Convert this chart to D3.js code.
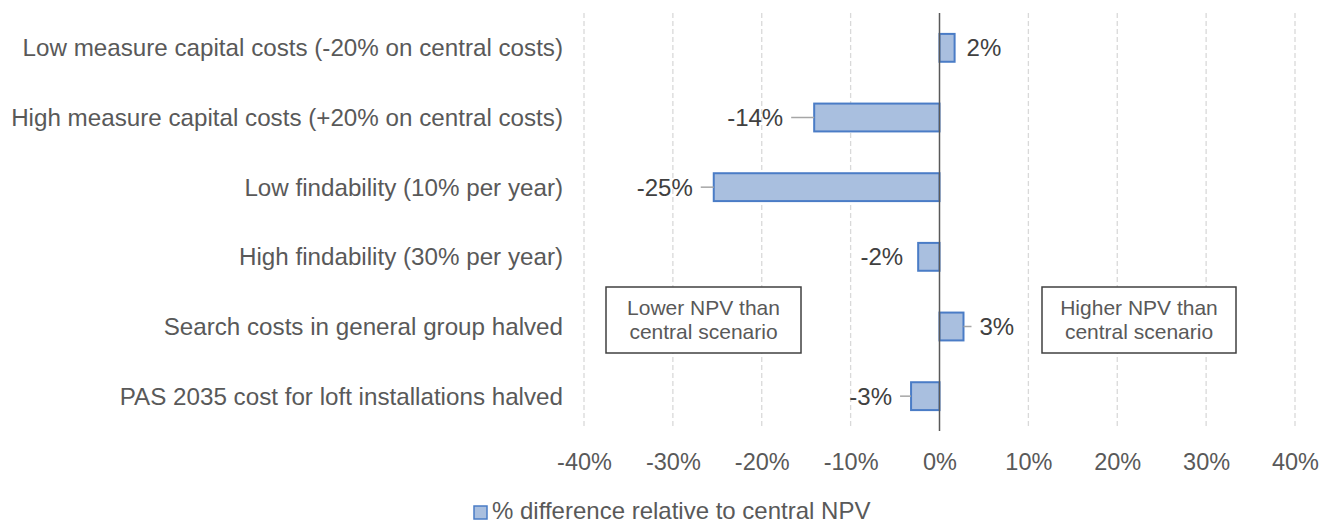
<!DOCTYPE html>
<html>
<head>
<meta charset="utf-8">
<script src="https://cdn.jsdelivr.net/npm/d3@7"></script>
<style>
  body { margin: 0; background: #fff; }
  svg { display: block; font-family: 'Liberation Sans', Arial, sans-serif; }
</style>
</head>
<body>
<div id="chart"></div>
<script>
const scenarios = [
  'Low measure capital costs (-20% on central costs)',
  'High measure capital costs (+20% on central costs)',
  'Low findability (10% per year)',
  'High findability (30% per year)',
  'Search costs in general group halved',
  'PAS 2035 cost for loft installations halved',
];
const npvDiff = [0.017, -0.141, -0.254, -0.024, 0.027, -0.032];
const valueLabels = ['2%', '-14%', '-25%', '-2%', '3%', '-3%'];
const xTicks = [-0.4, -0.3, -0.2, -0.1, 0, 0.1, 0.2, 0.3, 0.4];
const tickLabels = ['-40%', '-30%', '-20%', '-10%', '0%', '10%', '20%', '30%', '40%'];
const seriesName = '% difference relative to central NPV';
const noteLeft = ['Lower NPV than', 'central scenario'];
const noteRight = ['Higher NPV than', 'central scenario'];

// label layout: gap from bar end, and whether Excel drew a leader line
const labelGap = [12, 31, 21, 15, 16, 19];
const hasLeader = [false, true, true, false, true, true];

const width = 1329;
const height = 523;
const plot = { left: 584, right: 1295, top: 13, bottom: 431 };
const textColor = '#595959';
const barFill = '#A9BFDF';
const barStroke = '#4A7CC6';

const svg = d3.select('#chart')
  .append('svg')
  .attr('width', width)
  .attr('height', height);

const x = d3.scaleLinear()
  .domain([-0.4, 0.4])
  .range([plot.left, plot.right]);

const y = d3.scaleBand()
  .domain(scenarios)
  .range([plot.top, plot.bottom])
  .paddingInner(0.6)
  .paddingOuter(0.3);

// gridlines
svg.append('g')
  .selectAll('line')
  .data(xTicks.filter((t) => t !== 0))
  .enter()
  .append('line')
  .attr('x1', (d) => x(d))
  .attr('x2', (d) => x(d))
  .attr('y1', plot.top)
  .attr('y2', plot.bottom - 2)
  .attr('stroke', '#D9D9D9')
  .attr('stroke-width', 1.3)
  .attr('stroke-dasharray', '5,3');

// tick labels
const xAxis = svg.append('g')
  .attr('transform', `translate(0,${plot.bottom})`)
  .call(d3.axisBottom(x)
    .tickValues(xTicks)
    .tickFormat((d, i) => tickLabels[i])
    .tickSize(0)
    .tickPadding(22));
xAxis.select('.domain').remove();
xAxis.selectAll('text')
  .attr('fill', textColor)
  .style('font-size', '23.5px')
  .style('font-family', "'Liberation Sans', Arial, sans-serif");

// category labels
svg.append('g')
  .selectAll('text')
  .data(scenarios)
  .enter()
  .append('text')
  .attr('x', 563)
  .attr('y', (d) => y(d) + y.bandwidth() / 2)
  .attr('dy', '0.35em')
  .attr('text-anchor', 'end')
  .attr('fill', textColor)
  .style('font-size', '24.2px')
  .text((d) => d);

// bars
svg.append('g')
  .selectAll('rect')
  .data(npvDiff)
  .enter()
  .append('rect')
  .attr('x', (d) => x(Math.min(0, d)))
  .attr('y', (d, i) => y(scenarios[i]))
  .attr('width', (d) => Math.abs(x(d) - x(0)))
  .attr('height', y.bandwidth())
  .attr('fill', barFill)
  .attr('stroke', barStroke)
  .attr('stroke-width', 2);

// zero axis
svg.append('line')
  .attr('x1', x(0))
  .attr('x2', x(0))
  .attr('y1', plot.top)
  .attr('y2', plot.bottom)
  .attr('stroke', '#595959')
  .attr('stroke-width', 1.5);

// leader lines + value labels
const labels = svg.append('g');
npvDiff.forEach((d, i) => {
  const cy = y(scenarios[i]) + y.bandwidth() / 2;
  const dir = d < 0 ? -1 : 1;
  const end = x(d);
  if (hasLeader[i]) {
    labels.append('line')
      .attr('x1', end)
      .attr('x2', end + dir * (labelGap[i] - 8))
      .attr('y1', cy)
      .attr('y2', cy)
      .attr('stroke', '#A6A6A6')
      .attr('stroke-width', 1.5);
  }
  labels.append('text')
    .attr('x', end + dir * labelGap[i])
    .attr('y', cy)
    .attr('dy', '0.35em')
    .attr('text-anchor', d < 0 ? 'end' : 'start')
    .attr('fill', '#404040')
    .style('font-size', '24px')
    .text(valueLabels[i]);
});

// note boxes
const drawNote = (lines, x0, x1) => {
  const g = svg.append('g');
  g.append('rect')
    .attr('x', x0)
    .attr('y', 287)
    .attr('width', x1 - x0)
    .attr('height', 66)
    .attr('fill', '#fff')
    .attr('stroke', '#404040')
    .attr('stroke-width', 1.5);
  lines.forEach((t, i) => {
    g.append('text')
      .attr('x', (x0 + x1) / 2)
      .attr('y', 308 + i * 24)
      .attr('dy', '0.35em')
      .attr('text-anchor', 'middle')
      .attr('fill', textColor)
      .style('font-size', '21px')
      .text(t);
  });
};
drawNote(noteLeft, 606, 801);
drawNote(noteRight, 1042, 1236);

// legend
svg.append('rect')
  .attr('x', 474)
  .attr('y', 506)
  .attr('width', 13)
  .attr('height', 13)
  .attr('fill', barFill)
  .attr('stroke', barStroke)
  .attr('stroke-width', 1.5);
svg.append('text')
  .attr('x', 492)
  .attr('y', 511)
  .attr('dy', '0.35em')
  .attr('fill', textColor)
  .style('font-size', '24px')
  .text(seriesName);
</script>
</body>
</html>
